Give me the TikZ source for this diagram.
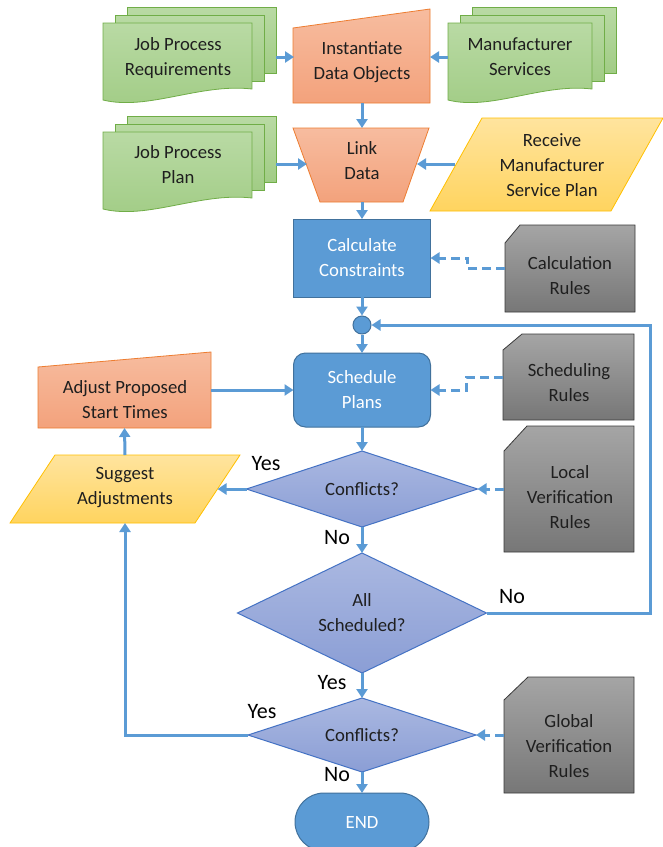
\documentclass[tikz,border=0pt]{standalone}
\usepackage{fontspec}
\setmainfont{Carlito}
\usetikzlibrary{arrows.meta,shapes.geometric,calc}
\definecolor{cline}{HTML}{5B9BD5}
\definecolor{gr1}{HTML}{B9DAA4}
\definecolor{gr2}{HTML}{A1CC85}
\definecolor{grb}{HTML}{70AD47}
\definecolor{or1}{HTML}{F7BC9F}
\definecolor{or2}{HTML}{F3A27C}
\definecolor{orb}{HTML}{ED7D31}
\definecolor{ye1}{HTML}{FFE49E}
\definecolor{ye2}{HTML}{FFD45F}
\definecolor{yeb}{HTML}{FFC000}
\definecolor{bl}{HTML}{5B9BD5}
\definecolor{blb}{HTML}{41719C}
\definecolor{de1}{HTML}{AAB8E1}
\definecolor{de2}{HTML}{8B9ED5}
\definecolor{deb}{HTML}{4472C4}
\definecolor{gy1}{HTML}{A5A5A5}
\definecolor{gy2}{HTML}{777777}
\definecolor{gyb}{HTML}{3A3A3A}
\newcommand\mydocstack[3]{%
  \path[docshape] ({#1+24},{#2-16}) rectangle ++(#3,66);
  \path[docshape] ({#1+12},{#2-8}) rectangle ++(#3,66);
  \path[docshape] (#1,#2) -- ++(#3,0) -- ++(0,66)
    .. controls ({#1+0.65*#3},{#2+60}) and ({#1+0.3*#3},{#2+88}) .. (#1,{#2+77}) -- cycle;
}
\begin{document}
\begin{tikzpicture}[x=1pt,y=-1pt,
  docshape/.style={top color=gr1,bottom color=gr2,draw=grb,line width=0.8pt},
  orshape/.style={top color=or1,bottom color=or2,draw=orb,line width=0.8pt},
  yeshape/.style={top color=ye1,bottom color=ye2,draw=yeb,line width=0.8pt},
  cardshape/.style={top color=gy1,bottom color=gy2,draw=gyb,line width=0.8pt},
  anc/.style={draw=none,inner sep=0pt,outer sep=0pt},
  txt/.style={font=\fontsize{18.7}{25}\selectfont,align=center,inner sep=0pt,text=black!88},
  lbl/.style={font=\fontsize{22}{26}\selectfont,inner sep=0pt,text=black},
  proc/.style={rectangle,draw=blb,fill=bl,line width=1pt,text=white,
    font=\fontsize{18.7}{25}\selectfont,align=center,inner sep=0pt,outer sep=0pt},
  dec/.style={diamond,aspect=3,draw=deb,top color=de1,bottom color=de2,line width=1pt,
    font=\fontsize{18.7}{25}\selectfont,align=center,inner sep=0pt,outer sep=0pt,text=black!88},
  conn/.style={draw=cline,line width=3pt,-{Triangle[width=11pt,length=9pt]}},
  dconn/.style={conn,dash pattern=on 9pt off 5pt}]
\clip (0,0) rectangle (663,847);
\fill[white] (0,0) rectangle (663,847);

% ---- shapes drawn directly ----
\mydocstack{103}{23}{149}
\mydocstack{103}{132}{149}
\mydocstack{448}{23}{144}
\path[orshape] (293,28) -- (430,9) -- (430,103) -- (293,103) -- cycle;
\path[orshape] (293,128) -- (429,128) -- (403,202) -- (320,202) -- cycle;
\path[yeshape] (482,118) -- (663,118) -- (611,211) -- (430,211) -- cycle;
\path[orshape] (38,367) -- (211,352) -- (211,428) -- (38,428) -- cycle;
\path[yeshape] (55,455) -- (240,455) -- (195,523) -- (10,523) -- cycle;
\path[cardshape] (505,243) -- (520,225) -- (635,225) -- (635,312) -- (505,312) -- cycle;
\path[cardshape] (503,350) -- (522,334) -- (634,334) -- (634,420) -- (503,420) -- cycle;
\path[cardshape] (504,451) -- (527,426) -- (634,426) -- (634,552) -- (504,552) -- cycle;
\path[cardshape] (504,700) -- (528,677) -- (634,677) -- (634,793) -- (504,793) -- cycle;

% ---- anchor boxes for the drawn shapes ----
\node[anc,minimum width=173pt,minimum height=20pt] (jpr) at (189.5,57) {};
\node[anc,minimum width=173pt,minimum height=20pt] (jpp) at (189.5,164) {};
\node[anc,minimum width=166pt,minimum height=20pt] (ms) at (531,57) {};
\node[anc,minimum width=136pt,minimum height=92pt] (inst) at (362,57) {};
\node[anc,minimum width=110pt,minimum height=74pt] (link) at (362,165) {};
\node[anc,minimum width=194pt,minimum height=20pt] (receive) at (552,164) {};
\node[anc,minimum width=173pt,minimum height=76pt] (adj) at (124.5,390) {};
\node[anc,minimum width=185pt,minimum height=68pt] (sugg) at (125,489) {};
\node[anc,minimum width=130pt,minimum height=87pt] (calcrules) at (570,268.5) {};
\node[anc,minimum width=131pt,minimum height=86pt] (schedrules) at (568.5,377) {};
\node[anc,minimum width=130pt,minimum height=126pt] (localrules) at (569,489) {};
\node[anc,minimum width=130pt,minimum height=116pt] (globalrules) at (569,735) {};

% ---- texts ----
\node[txt] (jprt) at (178,58) {Job Process\\Requirements};
\node[txt] (instt) at (362,62) {Instantiate\\Data Objects};
\node[txt] (mst) at (520,57) {Manufacturer\\Services};
\node[txt] (jppt) at (178,165) {Job Process\\Plan};
\node[txt] (linkt) at (362,161) {Link\\Data};
\node[txt] (rect) at (552,165) {Receive\\Manufacturer\\Service Plan};
\node[txt] (crt) at (570,276) {Calculation\\Rules};
\node[txt] (srt) at (569,383) {Scheduling\\Rules};
\node[txt] (adjt) at (125,400) {Adjust Proposed\\Start Times};
\node[txt] (sugt) at (125,488) {Suggest\\Adjustments};
\node[txt] (lrt) at (570,497) {Local\\Verification\\Rules};
\node[txt] (grt) at (569,746) {Global\\Verification\\Rules};

% ---- main column nodes ----
\node[proc,minimum width=137pt,minimum height=78pt] (calc) at (362,258) {Calculate\\Constraints};
\node[circle,draw=blb,fill=bl,line width=1pt,minimum size=18pt,inner sep=0pt] (junc) at (362,325) {};
\node[proc,rounded corners=12pt,minimum width=137pt,minimum height=74pt] (sched) at (362,390) {Schedule\\Plans};
\node[dec,minimum width=231pt,minimum height=76pt] (conf1) at (362,489) {Conflicts?};
\node[dec,minimum width=249pt,minimum height=120pt] (allsched) at (362,613) {All\\Scheduled?};
\node[dec,minimum width=228pt,minimum height=74pt] (conf2) at (362,735) {Conflicts?};
\node[proc,rounded corners=29pt,minimum width=134pt,minimum height=58pt] (endn) at (362,822) {END};

% ---- connectors ----
\draw[conn] (jpr.east) -- (jpr.east -| inst.west);
\draw[conn] (ms.west) -- (ms.west -| inst.east);
\draw[conn] (inst.south) -- (link.north);
\draw[conn] (jpp.east) -- (jpp.east -| link.west);
\draw[conn] (receive.west) -- (receive.west -| link.east);
\draw[conn] (link.south) -- (calc.north);
\coordinate (m1) at ($(calcrules.west)!0.5!(calc.east)$);
\draw[dconn] (calcrules.west) -- (m1 |- calcrules.west) -- (m1 |- calc.east) -- (calc.east);
\draw[conn] (calc.south) -- (junc.north);
\draw[conn] (junc.south) -- (sched.north);
\coordinate (m2) at ($(schedrules.west)!0.5!(sched.east)$);
\draw[dconn] (schedrules.west) -- (m2 |- schedrules.west) -- (m2 |- sched.east) -- (sched.east);
\draw[conn] (adj.east) -- (adj.east -| sched.west);
\draw[conn] (sched.south) -- (conf1.north);
\draw[dconn] (localrules.west) -- (conf1.east);
\draw[conn] (conf1.west) -- (sugg.east);
\draw[conn] (sugg.north) -- (adj.south);
\draw[conn] (conf1.south) -- (allsched.north);
\draw[conn] (allsched.east) -- ++(164,0) |- (junc.east);
\draw[conn] (allsched.south) -- (conf2.north);
\draw[dconn] (globalrules.west) -- (conf2.east);
\draw[conn] (conf2.west) -| (sugg.south);
\draw[conn] (conf2.south) -- (endn.north);

% ---- labels ----
\node[lbl] (yes1) at (266,464) {Yes};
\node[lbl] (no1) at (337,538) {No};
\node[lbl] (no2) at (512,597) {No};
\node[lbl] (yes2) at (332,683) {Yes};
\node[lbl] (yes3) at (262,712) {Yes};
\node[lbl] (no3) at (337,775) {No};
\end{tikzpicture}
\end{document}
